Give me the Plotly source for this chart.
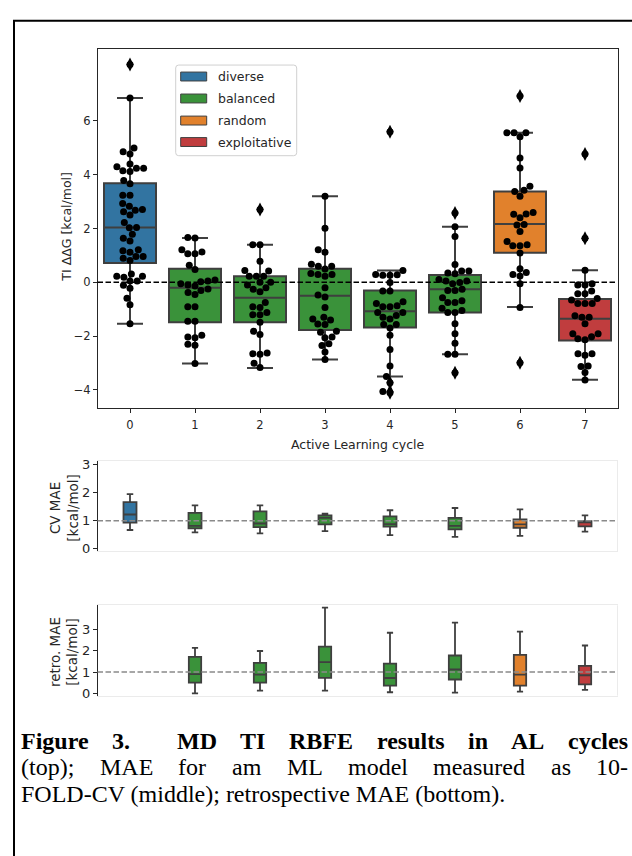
import numpy as np
import plotly.graph_objects as go

W, H = 632, 856
def fx(p): return p / W
def fy(p): return 1 - p / H

# ---------------- data ----------------
cycles = [0, 1, 2, 3, 4, 5, 6, 7]
strategy = ["diverse", "balanced", "balanced", "balanced", "balanced", "balanced", "random", "exploitative"]
legend_names = ["diverse", "balanced", "random", "exploitative"]
palette = {"diverse": "#3274a1", "balanced": "#3a923a", "random": "#e1812c", "exploitative": "#c03d3e"}

# TI ddG values per AL cycle (kcal/mol)
ddg_c0 = [8.1, 6.85, 4.99, 4.85, 4.77, 4.40, 4.30, 4.24, 4.24, 4.15, 4.12, 3.79, 3.66, 3.24, 3.24, 2.93,
          2.83, 2.71, 2.68, 2.62, 2.50, 2.22, 2.04, 2.03, 1.79, 1.64, 1.54, 1.21, 1.17, 1.12, 0.96, 0.96,
          0.90, 0.81, 0.31, 0.23, 0.23, 0.19, 0.05, 0.05, -0.11, -0.22, -0.59, -0.83, -1.54]
ddg_c1 = [1.67, 1.65, 1.21, 1.13, 1.06, 1.06, 0.64, 0.48, 0.09, 0.05, 0.02, -0.05, -0.10, -0.14, -0.25,
          -0.30, -0.38, -0.45, -0.91, -0.91, -1.45, -1.45, -1.97, -2.03, -2.06, -2.30, -2.34, -3.02]
ddg_c2 = [2.71, 1.40, 1.40, 0.78, 0.44, 0.42, 0.23, 0.23, 0.23, 0.0, 0.0, -0.10, -0.20, -0.26, -0.35,
          -0.75, -0.91, -0.93, -1.12, -1.20, -1.20, -1.48, -1.82, -1.94, -2.63, -2.65, -2.67, -3.01, -3.16]
ddg_c3 = [3.20, 2.01, 1.21, 1.12, 0.67, 0.60, 0.60, 0.50, 0.33, 0.29, 0.29, 0.23, -0.20, -0.47, -0.54,
          -0.93, -1.30, -1.36, -1.40, -1.55, -1.57, -1.82, -1.85, -2.03, -2.06, -2.28, -2.35, -2.59, -2.87]
ddg_c4 = [5.60, 0.44, 0.29, 0.28, 0.26, 0.26, -0.01, -0.32, -0.32, -0.72, -0.79, -0.87, -0.91, -0.91,
          -1.12, -1.12, -1.23, -1.30, -1.36, -1.57, -1.57, -1.70, -1.97, -2.50, -3.11, -3.50, -3.73,
          -4.06, -4.10]
ddg_c5 = [2.58, 2.07, 1.70, 0.66, 0.42, 0.42, 0.35, 0.32, 0.11, 0.05, 0.05, -0.01, -0.05, -0.26, -0.30,
          -0.30, -0.57, -0.68, -0.75, -0.75, -0.96, -1.05, -1.12, -1.12, -1.54, -1.91, -2.26, -2.67,
          -2.67, -3.36]
ddg_c6 = [6.93, 5.56, 5.56, 5.56, 5.41, 4.62, 4.25, 3.57, 3.42, 3.38, 3.20, 2.60, 2.54, 2.53, 2.40, 2.15,
          2.13, 1.89, 1.52, 1.40, 1.36, 1.36, 1.09, 0.51, 0.37, 0.29, 0.24, -0.05, -0.93, -2.99]
ddg_c7 = [4.77, 1.64, 0.45, -0.05, -0.10, -0.10, -0.32, -0.42, -0.42, -0.60, -0.66, -0.79, -0.79, -0.79,
          -1.24, -1.30, -1.30, -1.54, -1.91, -1.91, -2.02, -2.10, -2.13, -2.65, -2.65, -2.71, -3.11,
          -3.13, -3.35, -3.63]
ddg_values = [ddg_c0, ddg_c1, ddg_c2, ddg_c3, ddg_c4, ddg_c5, ddg_c6, ddg_c7]

# box statistics (top panel)
top_upper = [6.85, 1.65, 1.40, 3.20, 0.44, 2.07, 5.56, 0.45]
top_q3 = [3.68, 0.51, 0.23, 0.51, -0.30, 0.27, 3.38, -0.62]
top_med = [2.04, -0.20, -0.57, -0.50, -1.07, -0.26, 2.17, -1.35]
top_q1 = [0.72, -1.48, -1.48, -1.77, -1.68, -1.12, 1.10, -2.16]
top_lower = [-1.54, -3.02, -3.18, -2.87, -3.50, -2.67, -0.92, -3.62]
top_outliers = [[8.1], [], [2.71], [], [5.60, -3.73, -4.06, -4.10], [2.58, -3.36], [6.93, -2.99], [4.77, 1.64]]

# CV MAE (middle panel)
cv_upper = [1.94, 1.54, 1.54, 1.25, 1.37, 1.45, 1.40, 1.19]
cv_q3 = [1.66, 1.28, 1.33, 1.19, 1.15, 1.10, 1.05, 0.98]
cv_med = [1.22, 0.82, 0.90, 1.10, 0.88, 0.82, 0.87, 0.94]
cv_q1 = [0.93, 0.73, 0.77, 0.87, 0.79, 0.69, 0.75, 0.80]
cv_lower = [0.67, 0.59, 0.55, 0.63, 0.49, 0.43, 0.46, 0.61]

# retrospective MAE (bottom panel), cycles 1..7
retro_cycles = [1, 2, 3, 4, 5, 6, 7]
retro_upper = [2.14, 1.99, 4.03, 2.85, 3.33, 2.90, 2.25]
retro_q3 = [1.71, 1.43, 2.20, 1.40, 1.78, 1.81, 1.29]
retro_med = [0.90, 0.88, 1.47, 0.72, 1.12, 0.88, 0.85]
retro_q1 = [0.50, 0.50, 0.73, 0.36, 0.65, 0.36, 0.42]
retro_lower = [0.00, 0.13, 0.13, 0.05, 0.03, 0.08, 0.16]

caption_lines = ["Figure 3.  MD TI RBFE results in AL cycles",
                 "(top); MAE for am ML model measured as 10-",
                 "FOLD-CV (middle); retrospective MAE (bottom)."]

# ---------------- layout geometry ----------------
AX_L, AX_R = 97.5, 617.5
TOP_T, TOP_B = 45.0, 408.3
MID_T, MID_B = 461.7, 553.0
BOT_T, BOT_B = 607.7, 699.0
TOP_RANGE = [-4.67, 8.69]
MID_RANGE = [-0.08, 3.12]
BOT_RANGE = [-0.11, 4.14]
EDGE = "#3f3f3f"
INK = "#262626"
DASH = "5.5px,2.5px"

xpu = (AX_R - AX_L) / 8.0
ypu = (TOP_B - TOP_T) / (TOP_RANGE[1] - TOP_RANGE[0])


def swarm(vals, diam=7.2):
    ys = np.asarray(vals, float) * ypu
    order = np.argsort(ys, kind="stable")
    px_, py_ = [], []
    off = np.zeros(len(ys))
    for idx in order:
        y = ys[idx]
        nb = [(a, b) for a, b in zip(px_, py_) if abs(b - y) < diam]
        cands = [0.0]
        for a, b in nb:
            dx = np.sqrt(max(diam ** 2 - (b - y) ** 2, 0.0))
            cands += [a - dx, a + dx]
        cands.sort(key=lambda c: (abs(c), c))
        chosen = cands[-1]
        for c in cands:
            if all((c - a) ** 2 + (y - b) ** 2 >= diam ** 2 * (1 - 1e-6) for a, b in nb):
                chosen = c
                break
        px_.append(chosen)
        py_.append(y)
        off[idx] = chosen / xpu
    return off


fig = go.Figure()

# top boxes
for i in cycles:
    fig.add_trace(go.Box(x=[cycles[i]], q1=[top_q1[i]], median=[top_med[i]], q3=[top_q3[i]],
                         lowerfence=[top_lower[i]], upperfence=[top_upper[i]],
                         width=0.8, whiskerwidth=0.5, fillcolor=palette[strategy[i]],
                         line=dict(color=EDGE, width=2), boxpoints=False,
                         xaxis="x", yaxis="y", showlegend=False, hoverinfo="skip"))
# outliers (diamonds)
for i in cycles:
    if top_outliers[i]:
        fig.add_trace(go.Scatter(x=[cycles[i]] * len(top_outliers[i]), y=top_outliers[i], mode="markers",
                                 marker=dict(symbol="diamond-tall", size=10, color="black"),
                                 xaxis="x", yaxis="y", showlegend=False, hoverinfo="skip"))
# swarm points
for i in cycles:
    vals = ddg_values[i]
    offs = swarm(vals)
    fig.add_trace(go.Scatter(x=cycles[i] + offs, y=vals, mode="markers",
                             marker=dict(size=7, color="black"),
                             xaxis="x", yaxis="y", showlegend=False, hoverinfo="skip"))

# middle boxes
for i in cycles:
    fig.add_trace(go.Box(x=[cycles[i]], q1=[cv_q1[i]], median=[cv_med[i]], q3=[cv_q3[i]],
                         lowerfence=[cv_lower[i]], upperfence=[cv_upper[i]],
                         width=0.2, whiskerwidth=0.5, fillcolor=palette[strategy[i]],
                         line=dict(color=EDGE, width=1.8), boxpoints=False,
                         xaxis="x2", yaxis="y2", showlegend=False, hoverinfo="skip"))
# bottom boxes
for j, c in enumerate(retro_cycles):
    fig.add_trace(go.Box(x=[c], q1=[retro_q1[j]], median=[retro_med[j]], q3=[retro_q3[j]],
                         lowerfence=[retro_lower[j]], upperfence=[retro_upper[j]],
                         width=0.19, whiskerwidth=0.5, fillcolor=palette[strategy[c]],
                         line=dict(color=EDGE, width=1.8), boxpoints=False,
                         xaxis="x3", yaxis="y3", showlegend=False, hoverinfo="skip"))

tickfont = dict(family="DejaVu Sans", size=11.5, color=INK)
xdom = [fx(AX_L), fx(AX_R)]

fig.update_layout(
    width=W, height=H, margin=dict(l=0, r=0, t=0, b=0),
    paper_bgcolor="white", plot_bgcolor="white", boxmode="overlay",
    xaxis=dict(domain=xdom, range=[-0.5, 7.5], tickvals=cycles, ticks="outside", ticklen=3.5,
               tickcolor=INK, showline=True, mirror=True, linecolor=INK, linewidth=1,
               showgrid=False, zeroline=False, tickfont=tickfont, anchor="y", ticklabelstandoff=3),
    yaxis=dict(domain=[fy(TOP_B), fy(TOP_T)], range=TOP_RANGE, tickvals=[-4, -2, 0, 2, 4, 6],
               ticks="outside", ticklen=3.5, tickcolor=INK, showline=True, mirror=True,
               linecolor=INK, linewidth=1, showgrid=False, zeroline=False, tickfont=tickfont,
               anchor="x"),
    xaxis2=dict(domain=xdom, range=[-0.5, 7.5], showticklabels=False, ticks="", showline=True,
                mirror=True, linecolor="#ebebeb", linewidth=1, showgrid=False, zeroline=False,
                anchor="y2"),
    yaxis2=dict(domain=[fy(MID_B), fy(MID_T)], range=MID_RANGE, tickvals=[0, 1, 2, 3],
                ticks="outside", ticklen=3.5, tickcolor=INK, showline=True, linecolor=INK,
                linewidth=1, showgrid=False, zeroline=False,
                tickfont=dict(family="DejaVu Sans", size=13, color=INK), anchor="x2"),
    xaxis3=dict(domain=xdom, range=[-0.5, 7.5], showticklabels=False, ticks="", showline=True,
                mirror=True, linecolor="#ebebeb", linewidth=1, showgrid=False, zeroline=False,
                anchor="y3"),
    yaxis3=dict(domain=[fy(BOT_B), fy(BOT_T)], range=BOT_RANGE, tickvals=[0, 1, 2, 3],
                ticks="outside", ticklen=3.5, tickcolor=INK, showline=True, linecolor=INK,
                linewidth=1, showgrid=False, zeroline=False,
                tickfont=dict(family="DejaVu Sans", size=13, color=INK), anchor="x3"),
)

shapes = []
# reference lines
shapes.append(dict(type="line", xref="x domain", yref="y", x0=0, x1=1, y0=0, y1=0,
                   line=dict(color="black", width=1.5, dash=DASH), layer="above"))
shapes.append(dict(type="line", xref="x2 domain", yref="y2", x0=0, x1=1, y0=1, y1=1,
                   line=dict(color="#8a8a8a", width=1.5, dash=DASH), layer="above"))
shapes.append(dict(type="line", xref="x3 domain", yref="y3", x0=0, x1=1, y0=1, y1=1,
                   line=dict(color="#8a8a8a", width=1.5, dash=DASH), layer="above"))
# light right spines for small panels
for (t, b) in [(MID_T, MID_B), (BOT_T, BOT_B)]:
    shapes.append(dict(type="line", xref="paper", yref="paper", x0=fx(AX_R), x1=fx(AX_R),
                       y0=fy(t), y1=fy(b), line=dict(color="#ebebeb", width=1)))

# legend frame (rounded)
LX0, LX1, LY0, LY1, R = 175.7, 296.7, 61.7, 153.3, 3.0
path = (f"M {fx(LX0+R)},{fy(LY0)} L {fx(LX1-R)},{fy(LY0)} Q {fx(LX1)},{fy(LY0)} {fx(LX1)},{fy(LY0+R)} "
        f"L {fx(LX1)},{fy(LY1-R)} Q {fx(LX1)},{fy(LY1)} {fx(LX1-R)},{fy(LY1)} "
        f"L {fx(LX0+R)},{fy(LY1)} Q {fx(LX0)},{fy(LY1)} {fx(LX0)},{fy(LY1-R)} "
        f"L {fx(LX0)},{fy(LY0+R)} Q {fx(LX0)},{fy(LY0)} {fx(LX0+R)},{fy(LY0)} Z")
shapes.append(dict(type="path", xref="paper", yref="paper", path=path,
                   line=dict(color="#d0d0d0", width=1), fillcolor="white", layer="above"))
annotations = []
rows = [73.3, 95.5, 117.8, 139.5]
for name, ry in zip(legend_names, rows):
    shapes.append(dict(type="rect", xref="paper", yref="paper", x0=fx(180.7), x1=fx(206.7),
                       y0=fy(ry + 4.5), y1=fy(ry - 4.5), fillcolor=palette[name],
                       line=dict(color=EDGE, width=1), layer="above"))
    annotations.append(dict(xref="paper", yref="paper", x=fx(216), y=fy(ry), text=name,
                            showarrow=False, xanchor="left", yanchor="middle",
                            font=dict(family="DejaVu Sans", size=12.5, color=INK)))

# figure frame
shapes.append(dict(type="rect", xref="paper", yref="paper", x0=fx(14), x1=fx(650), y0=fy(17), y1=fy(880),
                   line=dict(color="black", width=2), fillcolor="rgba(0,0,0,0)", layer="above"))

# axis titles
annotations.append(dict(xref="paper", yref="paper", x=fx(67), y=fy(225), text="TI ΔΔG [kcal/mol]",
                        textangle=-90, showarrow=False, xanchor="center", yanchor="middle",
                        font=dict(family="DejaVu Sans", size=12.5, color=INK)))
annotations.append(dict(xref="paper", yref="paper", x=fx(357), y=fy(445), text="Active Learning cycle",
                        showarrow=False, xanchor="center", yanchor="middle",
                        font=dict(family="DejaVu Sans", size=12.5, color=INK)))
annotations.append(dict(xref="paper", yref="paper", x=fx(64), y=fy(509), text="CV MAE<br>[kcal/mol]",
                        textangle=-90, showarrow=False, xanchor="center", yanchor="middle",
                        font=dict(family="DejaVu Sans", size=13.5, color=INK)))
annotations.append(dict(xref="paper", yref="paper", x=fx(64), y=fy(655), text="retro. MAE<br>[kcal/mol]",
                        textangle=-90, showarrow=False, xanchor="center", yanchor="middle",
                        font=dict(family="DejaVu Sans", size=13.5, color=INK)))

# caption (justified like the reference)
REG = {'(': 333, ')': 333, ';': 278, '.': 250, '-': 333, '0': 500, '1': 500, '3': 500, 'A': 722, 'C': 667,
       'D': 722, 'E': 611, 'F': 556, 'L': 611, 'M': 889, 'O': 722, 'V': 722, 'a': 444, 'b': 500, 'c': 444,
       'd': 500, 'e': 444, 'f': 333, 'g': 500, 'i': 278, 'l': 278, 'm': 778, 'n': 500, 'o': 500, 'p': 500,
       'r': 333, 's': 389, 't': 278, 'u': 500, 'v': 500, 'y': 500, ' ': 250}
BOLD = {'F': 611, 'i': 278, 'g': 500, 'u': 556, 'r': 444, 'e': 444, '3': 500, '.': 250, 'M': 944, 'D': 722,
        'T': 667, 'I': 389, 'R': 722, 'B': 667, 'E': 667, 's': 389, 'l': 278, 't': 333, 'n': 556, 'A': 722,
        'L': 667, 'c': 444, 'y': 500, ' ': 250}
CAP_SIZE = 24
CAP_L, CAP_R = 20.0, 627.0
cap_y = [744.5, 771.2, 797.9]


def wlen(word, table):
    return sum(table.get(ch, 500) for ch in word) / 1000.0 * CAP_SIZE


def add_justified(line, y, table, bold):
    toks = line.split(" ")
    ng = len(toks) - 1
    sp = table[' '] / 1000.0 * CAP_SIZE
    natural = sum(wlen(t, table) for t in toks) + ng * sp
    extra = max((CAP_R - CAP_L) - natural, 0) / ng
    x = CAP_L
    for t in toks:
        if t:
            annotations.append(dict(xref="paper", yref="paper", x=fx(x), y=fy(y),
                                    text=f"<b>{t}</b>" if bold else t, showarrow=False,
                                    xanchor="left", yanchor="middle", borderpad=0,
                                    font=dict(family="Liberation Serif", size=CAP_SIZE, color="black")))
        x += wlen(t, table) + sp + extra


add_justified(caption_lines[0], cap_y[0], BOLD, True)
add_justified(caption_lines[1], cap_y[1], REG, False)
annotations.append(dict(xref="paper", yref="paper", x=fx(CAP_L), y=fy(cap_y[2]), text=caption_lines[2],
                        showarrow=False, xanchor="left", yanchor="middle", borderpad=0,
                        font=dict(family="Liberation Serif", size=CAP_SIZE, color="black")))

fig.update_layout(shapes=shapes, annotations=annotations)
fig.write_html("out.html", config={"displayModeBar": False},
               post_script="document.body.style.margin='0px';document.body.style.overflow='hidden';")
